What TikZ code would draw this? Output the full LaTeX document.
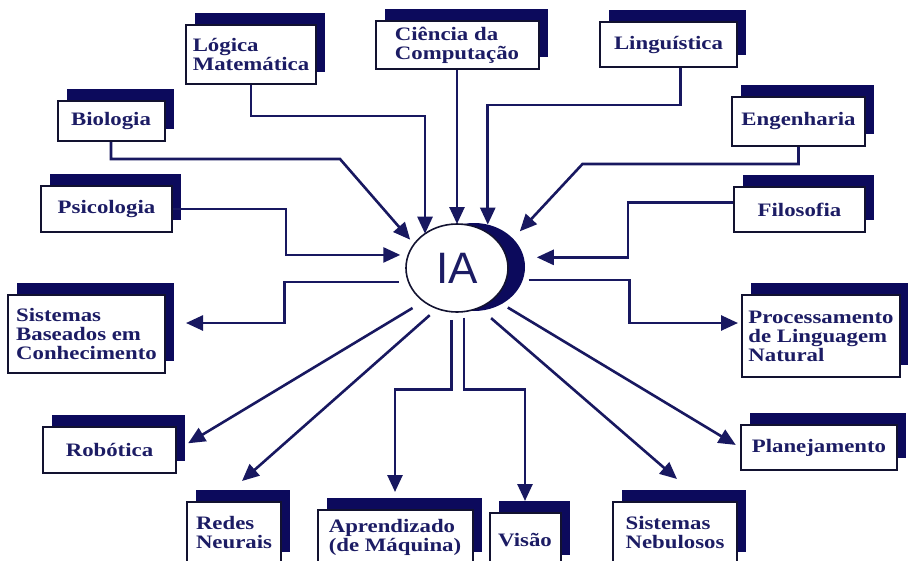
\documentclass[tikz,border=0pt]{standalone}
\usepackage{fontspec}
\usepackage{tikz}
\usetikzlibrary{arrows.meta, shapes.geometric, shadows}

\newfontfamily\boxfont{Liberation Serif}[FakeStretch=1.2]
\newfontfamily\iafont{Liberation Sans}

\definecolor{shadowblue}{RGB}{12,10,92}
\definecolor{linecol}{RGB}{24,24,96}
\definecolor{textblue}{RGB}{28,28,100}
\definecolor{boxline}{RGB}{18,18,48}

\begin{document}
\begin{tikzpicture}[
  x=1pt, y=-1pt,
  area/.style={draw=boxline, line width=2pt, fill=white, inner sep=0pt,
    text=textblue, align=left,
    font=\boxfont\bfseries\fontsize{19pt}{19pt}\selectfont,
    drop shadow={shadow xshift=9pt, shadow yshift=12pt, fill=shadowblue, opacity=1}},
  arr/.style={draw=linecol, line width=2.6pt, -{Triangle[length=17pt,width=15pt]}},
]
  \fill[white] (0,0) rectangle (908,560);
  \useasboundingbox (0,0) rectangle (908,560);

  % Centre
  \node[ellipse, fill=shadowblue, minimum width=102pt, minimum height=88pt,
        inner sep=0pt, outer sep=0pt] (iash) at (474,267) {};
  \node[ellipse, draw=boxline, line width=1.6pt, fill=white, minimum width=102pt,
        minimum height=88pt, inner sep=0pt, outer sep=0pt, text=textblue,
        font=\iafont\fontsize{44pt}{44pt}\selectfont] (ia) at (457,268) {IA};

  % Areas feeding IA
  \node[area, minimum width=130pt, minimum height=59pt] (logica)      at (251,54.5)  {Lógica\\Matemática};
  \node[area, minimum width=163pt, minimum height=48pt] (ciencia)     at (457,45)    {Ciência da\\Computação};
  \node[area, minimum width=137pt, minimum height=45pt] (linguistica) at (668.5,44.5) {Linguística};
  \node[area, minimum width=107pt, minimum height=40pt] (biologia)    at (111,121)   {Biologia};
  \node[area, minimum width=133pt, minimum height=49pt] (engenharia)  at (798.5,121.5) {Engenharia};
  \node[area, minimum width=131pt, minimum height=46pt] (psicologia)  at (106.5,209) {Psicologia};
  \node[area, minimum width=131pt, minimum height=45pt] (filosofia)   at (799.5,209.5) {Filosofia};

  % Areas coming out of IA
  \node[area, minimum width=157pt, minimum height=78pt] (sbc)          at (86.5,334)  {Sistemas\\Baseados em\\Conhecimento};
  \node[area, minimum width=158pt, minimum height=82pt] (pln)          at (821,336)   {Processamento\\de Linguagem\\Natural};
  \node[area, minimum width=133pt, minimum height=46pt] (robotica)     at (109.5,450) {Robótica};
  \node[area, minimum width=156pt, minimum height=45pt] (planejamento) at (819,447.5) {Planejamento};
  \node[area, minimum width=94pt,  minimum height=62pt] (redes)        at (234,533)   {Redes\\Neurais};
  \node[area, minimum width=155pt, minimum height=54pt] (aprendizado)  at (395,537)   {Aprendizado\\(de Máquina)};
  \node[area, minimum width=71pt,  minimum height=54pt] (visao)        at (525,540)   {Visão};
  \node[area, minimum width=124pt, minimum height=62pt] (nebulosos)    at (675,533)   {Sistemas\\Nebulosos};

  % Arrows into IA
  \draw[arr] (logica.south) -- ++(0,31) -| (ia.133);
  \draw[arr, shorten >=6pt] (biologia.south) -- ++(0,17) -- ++(229,0) -- (ia.151);
  \draw[arr, shorten >=8pt] (psicologia.east) -- ++(113,0) |- (ia.165);
  \draw[arr] (ciencia) -- (ia);
  \draw[arr] ([xshift=12pt]linguistica.south) -- ++(0,37) -| (iash.72);
  \draw[arr, shorten >=10pt] (engenharia.south) -- ++(0,17) -- ++(-216,0) -- (iash.36);
  \draw[arr, shorten >=13pt] ([yshift=7pt]filosofia.west) -- ++(-105,0) |- (iash.11);

  % Arrows out of IA
  \draw[arr, shorten <=10pt] (ia.196) -- ++(-124,0) |- ([xshift=20pt,yshift=11pt]sbc.east);
  \draw[arr, shorten <=6pt] (iash.345) -- ++(107,0) |- ([xshift=-3pt,yshift=13pt]pln.west);
  \draw[arr, shorten <=13pt, shorten >=13pt] (ia.225) -- (robotica.east);
  \draw[arr, shorten <=10pt] (ia.244) -- ([xshift=8pt,yshift=20pt]redes.north);
  \draw[arr, shorten <=8pt, shorten >=17pt] (ia.263) -- ++(0,78) -| (aprendizado.north);
  \draw[arr, shorten <=6pt, shorten >=11pt] (ia.279) -- ++(0,78) -| (visao.north);
  \draw[arr, shorten <=16pt] (ia.299) -- ([xshift=2pt,yshift=22pt]nebulosos.north);
  \draw[arr, shorten <=7pt, shorten >=5pt] (iash.307) -- (planejamento.west);
\end{tikzpicture}
\end{document}
